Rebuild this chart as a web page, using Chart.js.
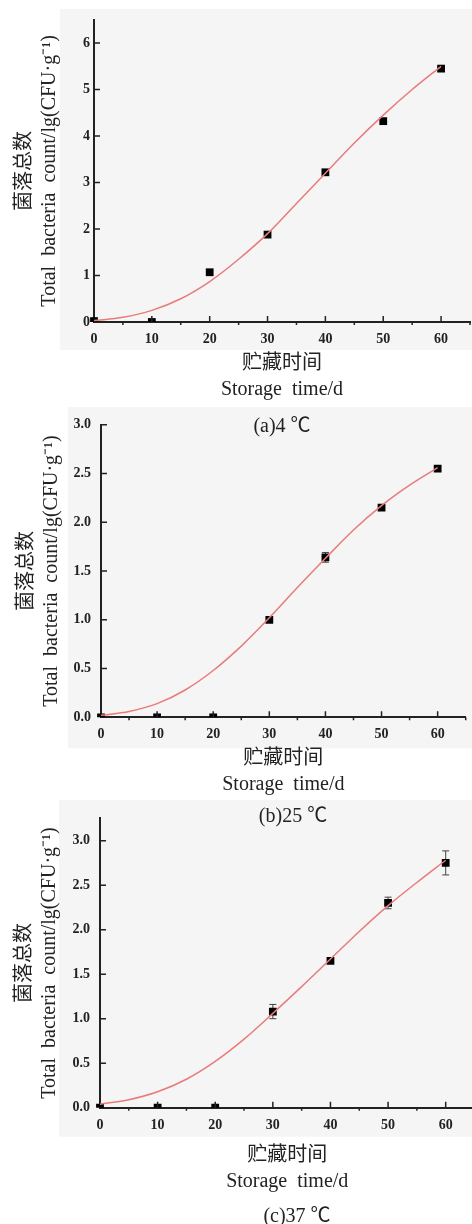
<!DOCTYPE html>
<html>
<head>
<meta charset="utf-8">
<script src="https://cdn.jsdelivr.net/npm/chart.js@4.4.1/dist/chart.umd.min.js"></script>
<style>
body { margin: 0; width: 472px; height: 1224px; overflow: hidden; background: #fff; position: relative; }
canvas { position: absolute; left: 0; }
.cap {
    position: absolute; z-index: 2; white-space: nowrap;
    font-family: 'Liberation Serif', 'Noto Sans CJK SC', serif;
    font-size: 20px; color: #222; transform: translate(-50%, -50%);
}
</style>
</head>
<body>
<canvas id="chartA" width="480" height="404" style="top:0px"></canvas>
<canvas id="chartB" width="480" height="396" style="top:404px"></canvas>
<canvas id="chartC" width="480" height="424" style="top:800px"></canvas>
<div class="cap" style="left:282px; top:423px">(a)4 ℃</div>
<div class="cap" style="left:293px; top:813px">(b)25 ℃</div>
<div class="cap" style="left:297px; top:1213px">(c)37 ℃</div>
<script>
// measured points (storage day -> lg CFU/g)
const days = [0, 10, 20, 30, 40, 50, 60];
const countA = [0.02, 0.0, 1.07, 1.88, 3.22, 4.32, 5.45];
const errA = [0, 0, 0, 0, 0, 0, 0];
const countB = [0.0, 0.0, 0.0, 1.0, 1.64, 2.15, 2.55];
const errB = [0.02, 0.03, 0.03, 0.02, 0.05, 0.02, 0.02];
const countC = [0.0, 0.0, 0.0, 1.08, 1.65, 2.30, 2.75];
const errC = [0.02, 0.03, 0.03, 0.08, 0.02, 0.065, 0.135];

// fitted curves, read every 5 days
const fitDays = [0, 5, 10, 15, 20, 25, 30, 35, 40, 45, 50, 55, 60];
const fitA = [0.03, 0.10, 0.25, 0.50, 0.87, 1.35, 1.90, 2.55, 3.20, 3.85, 4.45, 5.00, 5.50];
const fitB = [0.02, 0.06, 0.14, 0.28, 0.48, 0.73, 1.02, 1.33, 1.63, 1.92, 2.17, 2.38, 2.56];
const fitC = [0.04, 0.09, 0.18, 0.32, 0.52, 0.77, 1.06, 1.36, 1.67, 1.98, 2.27, 2.53, 2.78];

const xTitle = ['贮藏时间', 'Storage  time/d'];
const yTitle = ['菌落总数', 'Total  bacteria  count/lg(CFU·g⁻¹)'];

const FONT = "'Liberation Serif', 'Noto Sans CJK SC', serif";
const INK = '#222';

// gray panel behind each plot
const panelPlugin = {
    id: 'panel',
    beforeDraw(chart, args, opts) {
        const ctx = chart.ctx;
        ctx.save();
        ctx.fillStyle = '#f5f5f5';
        ctx.fillRect(opts.left, opts.top, chart.width - opts.left, chart.chartArea.bottom + opts.below - opts.top);
        ctx.restore();
    }
};

// error bars (under the squares) + inward tick marks
const marksPlugin = {
    id: 'marks',
    beforeDatasetsDraw(chart) {
        const ctx = chart.ctx;
        const xs = chart.scales.x, ys = chart.scales.y;
        const area = chart.chartArea;
        const ds = chart.data.datasets[1];
        ctx.save();
        ctx.beginPath();
        ctx.rect(0, 0, chart.width, area.bottom);
        ctx.clip();
        ctx.strokeStyle = '#444';
        ctx.lineWidth = 1;
        ds.data.forEach((p, i) => {
            const e = ds.errors[i];
            if (!e) return;
            const px = xs.getPixelForValue(p.x);
            const y1 = ys.getPixelForValue(p.y + e);
            const y2 = ys.getPixelForValue(p.y - e);
            ctx.beginPath();
            ctx.moveTo(px, y1); ctx.lineTo(px, y2);
            ctx.moveTo(px - 3.5, y1); ctx.lineTo(px + 3.5, y1);
            ctx.moveTo(px - 3.5, y2); ctx.lineTo(px + 3.5, y2);
            ctx.stroke();
        });
        ctx.restore();
    },
    afterDraw(chart) {
        const ctx = chart.ctx;
        const xs = chart.scales.x, ys = chart.scales.y;
        const area = chart.chartArea;
        ctx.save();
        ctx.strokeStyle = INK;
        ctx.lineWidth = 1.5;
        ctx.beginPath();
        xs.ticks.forEach(t => {
            const px = xs.getPixelForValue(t.value);
            if (t.value > 0) { ctx.moveTo(px, area.bottom); ctx.lineTo(px, area.bottom - 6); }
            const mx = xs.getPixelForValue(t.value + 5);
            ctx.moveTo(mx, area.bottom); ctx.lineTo(mx, area.bottom + 3);
        });
        ys.ticks.forEach(t => {
            if (t.value === 0) return;
            const py = ys.getPixelForValue(t.value);
            ctx.moveTo(area.left, py); ctx.lineTo(area.left + 6, py);
        });
        ctx.stroke();
        ctx.restore();
    }
};

function makeChart(id, counts, errs, fit, cfg) {
    const points = days.map((d, i) => ({ x: d, y: counts[i] }));
    const curve = fitDays.map((d, i) => ({ x: d, y: fit[i] }));
    return new Chart(document.getElementById(id), {
        type: 'scatter',
        data: {
            datasets: [
                {
                    data: curve,
                    showLine: true,
                    borderColor: '#e97b7b',
                    borderWidth: 1.5,
                    pointRadius: 0,
                    cubicInterpolationMode: 'monotone',
                    clip: false
                },
                {
                    data: points,
                    errors: errs,
                    pointStyle: 'rect',
                    pointRadius: 5.5,
                    backgroundColor: '#000',
                    borderColor: '#000',
                    borderWidth: 0,
                    clip: { left: false, top: false, right: false, bottom: 0 }
                }
            ]
        },
        options: {
            responsive: false,
            animation: false,
            layout: { padding: cfg.pad },
            plugins: {
                legend: { display: false },
                tooltip: { enabled: false },
                panel: cfg.panel
            },
            scales: {
                x: {
                    type: 'linear',
                    min: 0, max: 65,
                    afterFit: s => { s.height = cfg.xHeight; },
                    grid: { drawOnChartArea: false, drawTicks: false },
                    border: { display: true, color: INK, width: 2 },
                    ticks: {
                        stepSize: 10, includeBounds: false, padding: 9,
                        color: INK, font: { family: FONT, size: 14, weight: 'bold' }
                    },
                    title: {
                        display: true, text: xTitle, color: INK,
                        padding: 0,
                        font: { family: FONT, size: 20, lineHeight: 1.3 }
                    }
                },
                y: {
                    type: 'linear',
                    min: 0, max: cfg.yMax,
                    afterFit: s => { s.width = cfg.yWidth; },
                    grid: { drawOnChartArea: false, drawTicks: false },
                    border: { display: true, color: INK, width: 2 },
                    ticks: {
                        stepSize: cfg.yStep, includeBounds: false, padding: cfg.yPad,
                        color: INK, font: { family: FONT, size: 14, weight: 'bold' },
                        callback: v => v.toFixed(cfg.yDec)
                    },
                    title: {
                        display: true, text: yTitle, color: INK,
                        padding: { top: cfg.yTitlePad, bottom: 0 },
                        font: { family: FONT, size: 20, lineHeight: 1.25 }
                    }
                }
            }
        },
        plugins: [panelPlugin, marksPlugin]
    });
}

makeChart('chartA', countA, errA, fitA, {
    yMax: 6.5, yStep: 1, yDec: 0, yPad: 4, yWidth: 94, yTitlePad: 12.5,
    xHeight: 81, pad: { top: 19.8, right: 10, bottom: 1, left: 0 },
    panel: { left: 60, top: 9, below: 28 }
});
makeChart('chartB', countB, errB, fitB, {
    yMax: 3.0, yStep: 0.5, yDec: 1, yPad: 10, yWidth: 101, yTitlePad: 14.5,
    xHeight: 80.7, pad: { top: 20.7, right: 14.3, bottom: 2, left: 0 },
    panel: { left: 68, top: 3, below: 31 }
});
makeChart('chartC', countC, errC, fitC, {
    yMax: 3.25, yStep: 0.5, yDec: 1, yPad: 10, yWidth: 100, yTitlePad: 12.5,
    xHeight: 87, pad: { top: 6.7, right: 5.2, bottom: 29.3, left: 0 },
    panel: { left: 59, top: 0, below: 29 }
});
</script>
</body>
</html>
